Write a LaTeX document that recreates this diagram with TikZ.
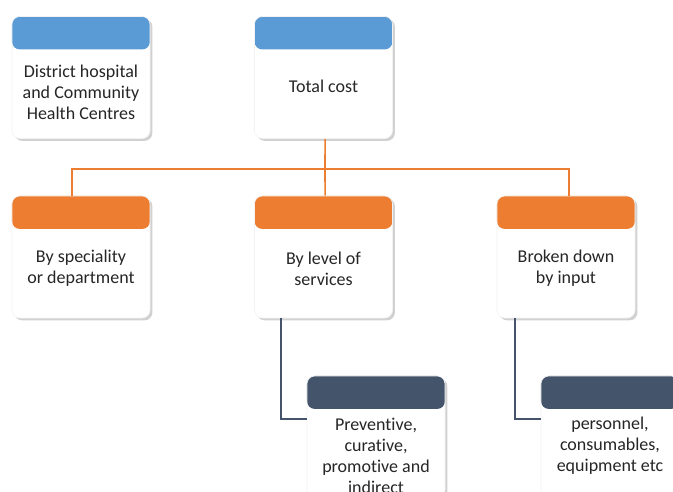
\documentclass[tikz,border=0pt]{standalone}
\usepackage{fontspec}
\setmainfont{Carlito}[Ligatures=NoCommon]
\usetikzlibrary{shadows}
\definecolor{headblue}{HTML}{5B9BD5}
\definecolor{headorange}{HTML}{ED7D31}
\definecolor{headdark}{HTML}{44546A}

\begin{document}
\begin{tikzpicture}[x=0.025cm, y=-0.025cm,
	card/.style={rectangle, rounded corners=0.2cm, fill=white, draw=black!5,
		minimum width=3.45cm, minimum height=3.05cm, inner sep=0pt,
		drop shadow={shadow xshift=0.06cm, shadow yshift=-0.06cm, opacity=0.3, fill=black!60},
		path picture={\fill[#1] (path picture bounding box.north west) rectangle
			([yshift=-0.825cm]path picture bounding box.north east);}},
	cardtext/.style={align=center, font=\fontsize{12.8}{14.9}\selectfont, text=black!85},
	link/.style={line width=0.04cm, headorange},
	sublink/.style={line width=0.04cm, headdark}]
	\useasboundingbox (0,0) rectangle (673,492);
	\clip (0,0) rectangle (673,492);

	% Macro for drawing a card with a coloured head.
	% Usage: \drawcard{name}{x}{y}{colour}{text shift}{text}
	\newcommand{\drawcard}[6]{
		\node[card=#4] (#1) at (#2,#3) {};
		\node[cardtext] (#1-txt) at ([yshift=-#5*0.025cm]#1.center) {#6};
	}

	% Top row
	\drawcard{site}{81}{77.5}{headblue}{14.5}{District hospital\\and Community\\Health Centres};
	\drawcard{total}{323.5}{77.5}{headblue}{8.5}{Total cost};

	% Second row
	\drawcard{spec}{81}{257}{headorange}{11.5}{By speciality\\or department};
	\drawcard{level}{323.5}{257}{headorange}{11.5}{By level of\\services};
	\drawcard{input}{566}{257}{headorange}{11.5}{Broken down\\by input};

	% Third row
	\drawcard{prev}{376}{437}{headdark}{18.5}{Preventive,\\curative,\\promotive and\\indirect};
	\drawcard{pers}{610}{437}{headdark}{8.5}{personnel,\\consumables,\\equipment etc};

	% Orange tree
	\coordinate (bus) at (325,169);
	\draw[link] ([xshift=0.04cm]total.south) -- (bus);
	\draw[link] ([xshift=-0.225cm]spec.north) |- (bus) -| ([xshift=0.075cm]input.north);
	\draw[link] (bus) -- ([xshift=0.04cm]level.north);

	% Dark links
	\draw[sublink] ([xshift=-1.06cm]level.south) |- ([yshift=0.45cm]prev.west);
	\draw[sublink] ([xshift=-1.28cm]input.south) |- ([yshift=0.45cm]pers.west);
\end{tikzpicture}
\end{document}
